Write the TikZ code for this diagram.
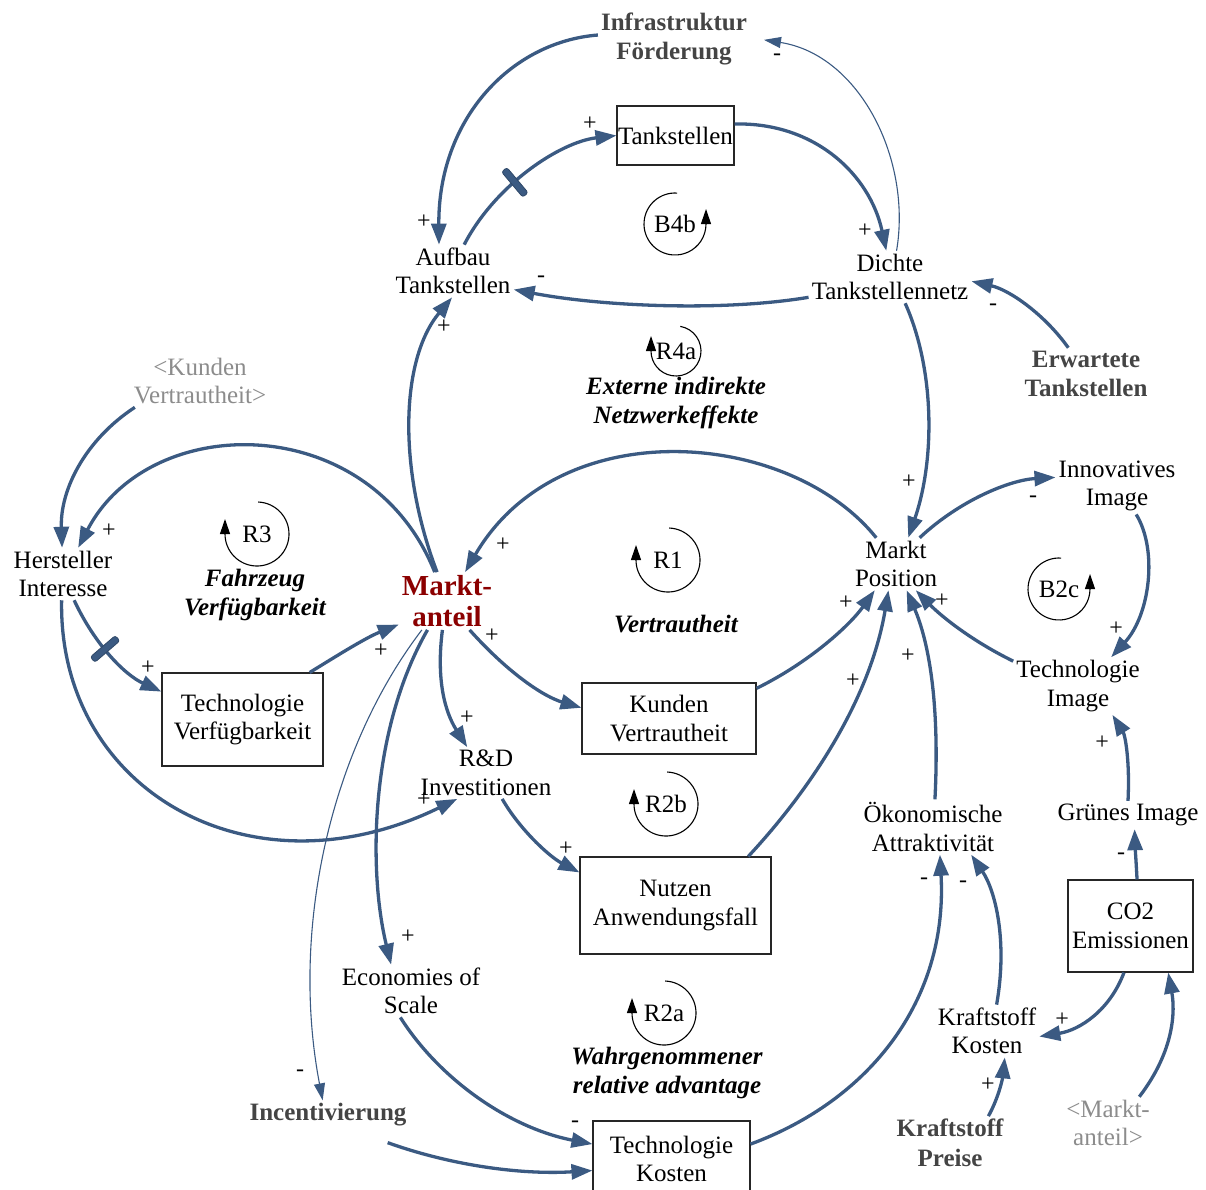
\documentclass[tikz,border=0pt]{standalone}
\usepackage{fontspec}
\setmainfont{Liberation Serif}
\usetikzlibrary{arrows.meta}
\definecolor{linkblue}{RGB}{59,90,130}
\definecolor{darkred}{RGB}{139,0,0}
\definecolor{exogray}{RGB}{68,68,68}
\definecolor{shadowgray}{RGB}{140,140,140}

\tikzset{
  var/.style={align=center, inner sep=3pt, font=\fontsize{25}{28.5}\selectfont},
  exo/.style={var, font=\fontsize{25}{29.5}\selectfont\bfseries, text=exogray},
  shadowvar/.style={var, text=shadowgray},
  stock/.style={var, draw=black!85, line width=1.1pt, inner sep=0pt},
  looptitle/.style={align=center, inner sep=1pt, font=\fontsize{25}{29}\selectfont\bfseries\itshape},
  loopid/.style={inner sep=0pt, font=\fontsize{25}{28}\selectfont},
  pol/.style={inner sep=0pt, font=\fontsize{24}{24}\selectfont},
  link/.style={draw=linkblue, line width=3.3pt, -{Triangle[length=21pt,width=15pt]}},
  thinlink/.style={draw=linkblue, line width=1.1pt, -{Triangle[length=17pt,width=11pt]}},
  loopline/.style={line width=1.1pt, -{Triangle[length=15pt,width=10pt]}},
  delaymark/.style={sloped, fill=linkblue, draw=linkblue!80!black, line width=0.8pt,
    rounded corners=2.5pt, minimum width=7pt, minimum height=33pt, inner sep=0pt},
}

\begin{document}
\begin{tikzpicture}[x=1pt, y=-1pt]
\useasboundingbox (0,0) rectangle (1206,1189);

% ---------- variables ----------
\node[exo] (inf) at (674,39) {Infrastruktur\\Förderung};
\node[stock, minimum width=117pt, minimum height=59pt] (tank) at (675.5,135.5) {Tankstellen};
\node[var] (aufbau) at (453,271) {Aufbau\\Tankstellen};
\node[var] (dichte) at (890,277) {Dichte\\Tankstellennetz};
\node[exo] (erw) at (1086,374) {Erwartete\\Tankstellen};
\node[shadowvar] (kv) at (200,381) {<Kunden\\Vertrautheit>};
\node[var] (hi) at (63,574) {Hersteller\\Interesse};
\node[var, font=\fontsize{29}{31}\selectfont\bfseries, text=darkred] (ma) at (447,601) {Markt-\\anteil};
\node[var] (mp) at (896,564) {Markt\\Position};
\node[var] (inno) at (1117,486) {Innovatives\\Image};
\node[stock, minimum width=161pt, minimum height=93pt] (tv) at (242.5,719.5) {Technologie\\Verfügbarkeit};
\node[stock, minimum width=174pt, minimum height=71pt] (kvbox) at (669,718.5) {Kunden\\Vertrautheit};
\node[var] (ti) at (1078,686) {Technologie\\Image};
\node[var] (rd) at (486,773) {R\&D\\Investitionen};
\node[var] (oek) at (933,827) {Ökonomische\\Attraktivität};
\node[var] (gi) at (1128,815) {Grünes Image};
\node[stock, minimum width=191pt, minimum height=97pt] (nutzen) at (675.5,905.5) {Nutzen\\Anwendungsfall};
\node[stock, minimum width=125pt, minimum height=92pt] (co2) at (1130.5,926) {CO2\\Emissionen};
\node[var] (eos) at (411,991) {Economies of\\Scale};
\node[var] (kk) at (987,1031) {Kraftstoff\\Kosten};
\node[exo] (inc) at (328,1115) {Incentivierung};
\node[stock, minimum width=157pt, minimum height=74pt] (tk) at (671.5,1158) {};
\node[var] (tktext) at (671.5,1159) {Technologie\\Kosten};
\node[exo] (kp) at (950,1143) {Kraftstoff\\Preise};
\node[shadowvar] (mas) at (1108,1123) {<Markt-\\anteil>};

% ---------- loop titles ----------
\node[looptitle] (extn) at (676,403) {Externe indirekte\\Netzwerkeffekte};
\node[looptitle] (fahrz) at (255,595) {Fahrzeug\\Verfügbarkeit};
\node[looptitle] (vertr) at (676,624) {Vertrautheit};
\node[looptitle] (wahr) at (667,1073) {Wahrgenommener\\relative advantage};

% ---------- loop identifiers ----------
\node[loopid] (b4b) at (675,224) {B4b};
\draw[loopline] (b4b.center) ++(-86:31) arc[start angle=-86, end angle=-360, radius=31] -- ++(0,-15);
\node[loopid] (r4a) at (676,351) {R4a};
\draw[loopline] (r4a.center) ++(-80:25) arc[start angle=-80, end angle=180, radius=25] -- ++(0,-15);
\node[loopid] (r3) at (257,534) {R3};
\draw[loopline] (r3.center) ++(-88:32) arc[start angle=-88, end angle=180, radius=32] -- ++(0,-15);
\node[loopid] (r1) at (668,560) {R1};
\draw[loopline] (r1.center) ++(-88:32) arc[start angle=-88, end angle=180, radius=32] -- ++(0,-15);
\node[loopid] (r2b) at (666,804) {R2b};
\draw[loopline] (r2b.center) ++(-88:32) arc[start angle=-88, end angle=180, radius=32] -- ++(0,-15);
\node[loopid] (r2a) at (664,1013) {R2a};
\draw[loopline] (r2a.center) ++(-88:32) arc[start angle=-88, end angle=180, radius=32] -- ++(0,-15);
\node[loopid] (b2c) at (1059,589) {B2c};
\draw[loopline] (b2c.center) ++(-86:31) arc[start angle=-86, end angle=-360, radius=31] -- ++(0,-15);

% ---------- causal links ----------
\draw[link] (inf.177) .. controls (510,42) and (438,120) .. (aufbau.118);
\draw[link] (aufbau.67) .. controls (495,185) and (560,142) .. (tank.west)
  node[delaymark, pos=0.4] (dl1) {};
\draw[link] (tank.11) .. controls (815,122) and (870,175) .. (dichte.98);
\draw[link] (dichte.194) .. controls (720,312) and (600,306) .. (aufbau.-17);
\draw[thinlink, shorten >=14pt] (dichte.76) .. controls (912,160) and (860,55) .. (inf.1);
\draw[link] (erw.124) .. controls (1045,315) and (1010,290) .. (dichte.-3);
\draw[link] (dichte.-60) .. controls (935,370) and (935,460) .. (mp.65);
\draw[link] (ma.109) .. controls (398,470) and (400,360) .. (aufbau.268);
\draw[link] (ma.113) .. controls (370,410) and (150,410) .. (hi.60);
\draw[link] (kv.202) .. controls (85,440) and (60,490) .. (hi.92);
\draw[link] (hi.-67) .. controls (95,645) and (125,675) .. (tv.161)
  node[delaymark, pos=0.42] (dl2) {};
\draw[link] (tv.35) .. controls (335,657) and (365,638) .. (ma.206);
\draw[link] (hi.267) .. controls (58,790) and (250,900) .. (rd.222);
\draw[link] (ma.261) .. controls (436,680) and (445,712) .. (rd.126);
\draw[link] (ma.-52) .. controls (510,675) and (545,697) .. (kvbox.173);
\draw[link] (kvbox.19) .. controls (810,662) and (850,625) .. (mp.231);
\draw[link] (mp.127) .. controls (790,430) and (560,410) .. (ma.58);
\draw[link] (ma.236) .. controls (370,730) and (368,870) .. (eos.127);
\draw[thinlink] (ma.229) .. controls (330,750) and (290,930) .. (inc.110);
\draw[link] (rd.-58) .. controls (520,830) and (550,857) .. (nutzen.161);
\draw[link] (nutzen.34.5) .. controls (810,790) and (870,700) .. (mp.254);
\draw[link] (eos.248) .. controls (440,1080) and (510,1128) .. (tk.170.6);
\draw[link] ([xshift=-22pt,yshift=-13pt]inc.south east) .. controls (450,1165) and (520,1175) .. (tk.189.4);
\draw[link] (tk.10) .. controls (870,1100) and (948,1000) .. (oek.284);
\draw[link] (oek.86) .. controls (940,700) and (928,640) .. (mp.292);
\draw[link] (kk.70) .. controls (1008,940) and (995,890) .. (oek.-36);
\draw[link] (kp.35) .. controls (1000,1095) and (1003,1075) .. (kk.-56);
\draw[link] (co2.262) .. controls (1110,1010) and (1080,1030) .. (kk.-6);
\draw[link] (mas.40.6) .. controls (1175,1050) and (1175,1010) .. (co2.-51);
\draw[link] (co2.82) .. controls (1136,860) and (1135,845) .. (gi.-65);
\draw[link] (gi.90) .. controls (1130,760) and (1125,735) .. (ti.-40);
\draw[link] (ti.159) .. controls (970,640) and (940,615) .. (mp.-53);
\draw[link] (mp.48) .. controls (960,500) and (1010,480) .. (inno.172);
\draw[link] (inno.-56) .. controls (1158,550) and (1150,615) .. (ti.41);

% ---------- link polarities ----------
\node[pol] (s1) at (424,222) {+};
\node[pol] (s2) at (590,124) {+};
\node[pol] (s3) at (865,231) {+};
\node[pol] (s4) at (541,279) {-};
\node[pol] (s5) at (777,57) {-};
\node[pol] (s6) at (993,307) {-};
\node[pol] (s7) at (909,482) {+};
\node[pol] (s8) at (444,327) {+};
\node[pol] (s9) at (109,531) {+};
\node[pol] (s11) at (148,668) {+};
\node[pol] (s12) at (381,651) {+};
\node[pol] (s13) at (424,800) {+};
\node[pol] (s14) at (467,718) {+};
\node[pol] (s15) at (492,636) {+};
\node[pol] (s16) at (846,603) {+};
\node[pol] (s17) at (503,545) {+};
\node[pol] (s18) at (408,937) {+};
\node[pol] (s19) at (300,1073) {-};
\node[pol] (s20) at (566,849) {+};
\node[pol] (s21) at (853,681) {+};
\node[pol] (s22) at (575,1124) {-};
\node[pol] (s24) at (924,881) {-};
\node[pol] (s25) at (908,656) {+};
\node[pol] (s26) at (963,884) {-};
\node[pol] (s27) at (988,1085) {+};
\node[pol] (s28) at (1062,1020) {+};
\node[pol] (s30) at (1121,856) {-};
\node[pol] (s31) at (1102,743) {+};
\node[pol] (s32) at (942,601) {+};
\node[pol] (s33) at (1033,499) {-};
\node[pol] (s34) at (1116,629) {+};
\end{tikzpicture}
\end{document}
